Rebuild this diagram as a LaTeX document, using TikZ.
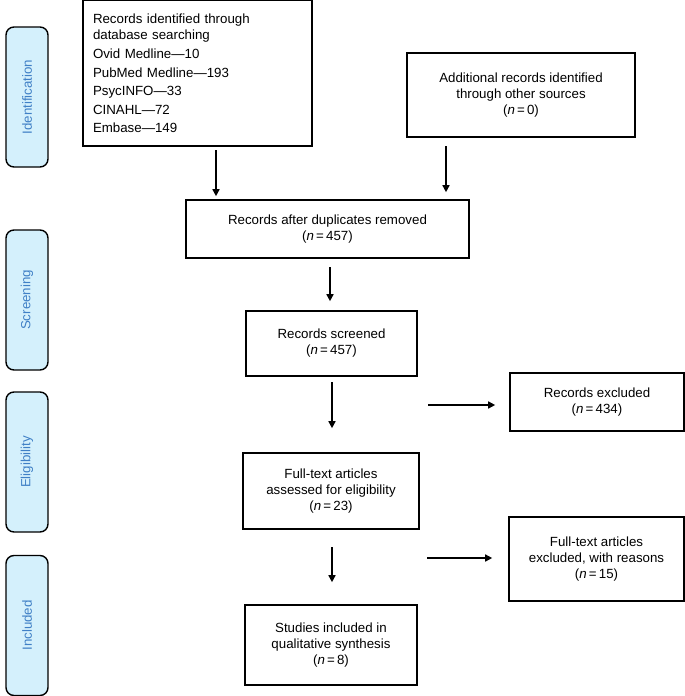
\documentclass[tikz,border=0pt]{standalone}
\usepackage{fontspec}
\setmainfont{Liberation Sans}
\usetikzlibrary{arrows.meta}

\definecolor{phasefill}{RGB}{212,240,252}
\definecolor{phasetext}{RGB}{64,128,198}

\tikzset{
	box/.style={draw, line width=1.6pt, align=center, inner sep=0pt,
		font=\fontsize{13.3}{16}\selectfont},
	phase/.style={draw, line width=1.4pt, rounded corners=8pt, fill=phasefill,
		text=phasetext, rotate=90, minimum width=140pt, minimum height=42pt,
		font=\fontsize{13.3}{16}\selectfont},
	arr/.style={line width=1.5pt, -{Triangle[length=7pt,width=7pt]}}
}

\begin{document}
\begin{tikzpicture}[x=1pt,y=-1pt]
		\useasboundingbox (0,0) rectangle (685,696);
		
		% phases
		\node(ident) at (27,97)[phase]{Identification};
		\node(scr) at (27,300)[phase]{Screening};
		\node(elig) at (27,462)[phase]{Eligibility};
		\node(incd) at (27,625.5)[phase]{Included};
		
		% boxes
		\node(recid) at (197.5,73)[box,minimum width=229pt,minimum height=146pt,
			text width=209pt,align=left]{Records identified through\\database searching\\[3.5pt]
			Ovid Medline---10\\[2.5pt]PubMed Medline---193\\[2.5pt]PsycINFO---33\\[2.5pt]CINAHL---72\\[2.5pt]Embase---149};
		\node(addrec) at (521,95)[box,minimum width=228pt,minimum height=84pt]
			{Additional records identified\\through other sources\\(\textit{n}\,=\,0)};
		\node(dup) at (327.5,229)[box,minimum width=283pt,minimum height=58pt]
			{Records after duplicates removed\\(\textit{n}\,=\,457)};
		\node(screen) at (331.5,343.5)[box,minimum width=171pt,minimum height=65pt]
			{Records screened\\(\textit{n}\,=\,457)};
		\node(recexcl) at (597,402)[box,minimum width=174pt,minimum height=58pt]
			{Records excluded\\(\textit{n}\,=\,434)};
		\node(fulltext) at (331,491)[box,minimum width=176pt,minimum height=76pt]
			{Full-text articles\\assessed for eligibility\\(\textit{n}\,=\,23)};
		\node(ftexcl) at (596.5,559)[box,minimum width=175pt,minimum height=84pt]
			{Full-text articles\\excluded, with reasons\\(\textit{n}\,=\,15)};
		\node(incl) at (331,645)[box,minimum width=172pt,minimum height=80pt]
			{Studies included in\\qualitative synthesis\\(\textit{n}\,=\,8)};
		
		% arrow positions
		\coordinate(p1) at (216,150);
		\coordinate(p2) at (446,146);
		\coordinate(p3) at (330,267);
		\coordinate(p4) at (332,382);
		\coordinate(p5) at (428,405);
		\coordinate(p6) at (332,547);
		\coordinate(p7) at (427,558);
		
		\draw[arr,shorten >=3pt] (p1) -- (p1 |- dup.north);
		\draw[arr,shorten >=7pt] (p2) -- (p2 |- dup.north);
		\draw[arr,shorten >=9pt] (p3) -- (p3 |- screen.north);
		\draw[arr,shorten >=24pt] (p4) -- (p4 |- fulltext.north);
		\draw[arr,shorten >=14pt] (p5) -- (p5 -| recexcl.west);
		\draw[arr,shorten >=22pt] (p6) -- (p6 |- incl.north);
		\draw[arr,shorten >=16pt] (p7) -- (p7 -| ftexcl.west);
		
\end{tikzpicture}
\end{document}
